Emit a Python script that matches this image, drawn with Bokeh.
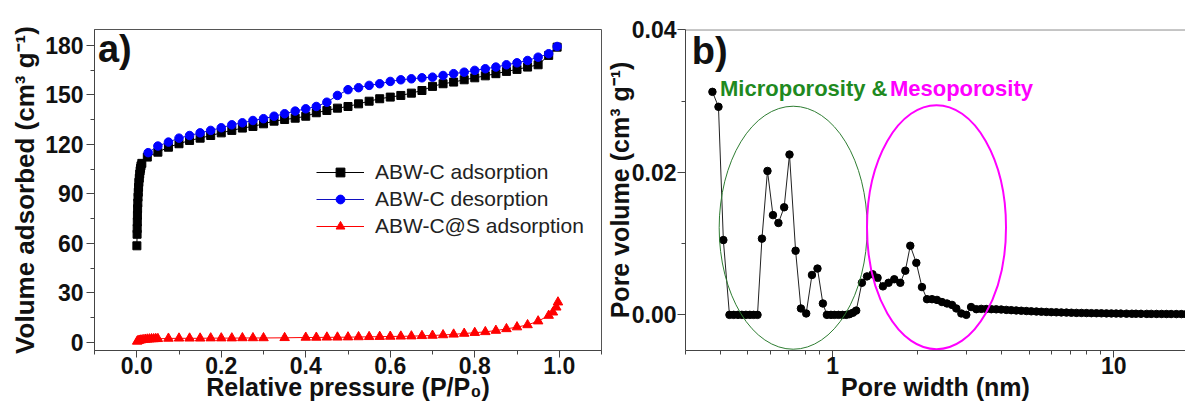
from bokeh.plotting import figure
from bokeh.layouts import row
from bokeh.models import (FixedTicker, PrintfTickFormatter, Legend, LegendItem,
                          Range1d, Span)
from bokeh.core.properties import value
from bokeh.embed import file_html
from bokeh.resources import INLINE

FONT = "Liberation Sans"

# ---------------- Panel a) : N2 isotherms ----------------
ads_p = [0.0003, 0.0008, 0.001, 0.0013, 0.0016, 0.002, 0.0025, 0.003, 0.0036, 0.0043,
         0.005, 0.006, 0.007, 0.008, 0.009, 0.010, 0.012,
         0.025, 0.05, 0.075, 0.1, 0.125, 0.15, 0.175, 0.2, 0.225, 0.25, 0.275, 0.3,
         0.325, 0.35, 0.375, 0.4, 0.425, 0.45, 0.475, 0.5, 0.525, 0.55, 0.575, 0.6,
         0.625, 0.65, 0.675, 0.7, 0.725, 0.75, 0.775, 0.8, 0.825, 0.85, 0.875, 0.9,
         0.925, 0.95, 0.975, 0.995]
ads_v = [58.5, 65.5, 69, 73, 77, 81, 84.5, 88, 91, 94,
         97, 99.5, 102, 104, 105.5, 107, 108.5,
         112.3, 115.3, 118.3, 120.4, 122.4, 123.8, 125.4, 127, 128.5, 129.9, 130.9, 132.5,
         134.1, 135.1, 135.9, 137.1, 139.2, 140.6, 142, 143, 144.6, 146.2, 147.7, 148.7,
         149.7, 151.1, 152.7, 155.2, 156.8, 157.8, 159.2, 160.4, 161.6, 162.9, 164.3, 165.5,
         166.9, 168.3, 174, 179]

des_p = [0.995, 0.975, 0.95, 0.925, 0.9, 0.875, 0.85, 0.825, 0.8, 0.775, 0.75, 0.725,
         0.7, 0.675, 0.65, 0.625, 0.6, 0.575, 0.55, 0.525, 0.5, 0.475, 0.45, 0.425,
         0.4, 0.375, 0.35, 0.325, 0.3, 0.275, 0.25, 0.225, 0.2, 0.175, 0.15, 0.125,
         0.1, 0.075, 0.05, 0.027]
des_v = [179.4, 175, 172.9, 170.9, 169.5, 168.3, 166.9, 165.9, 164.9, 163.8, 162.9, 161.8,
         160.8, 160.4, 159.8, 159.2, 158.2, 156.8, 155.8, 154.4, 153.2, 149.7, 145.6, 143,
         141.6, 140.2, 138.6, 137.1, 135.6, 134.5, 133.1, 131.9, 130.1, 128.5, 127, 125.4,
         123.8, 121.4, 119, 115]

cs_p = [0.001, 0.003, 0.006, 0.01, 0.015, 0.02, 0.025, 0.03, 0.035, 0.04, 0.045, 0.05,
        0.075, 0.1, 0.125, 0.15, 0.175, 0.2, 0.225, 0.25, 0.275, 0.3, 0.35, 0.4, 0.425,
        0.45, 0.475, 0.5, 0.525, 0.55, 0.575, 0.6, 0.625, 0.65, 0.675, 0.7, 0.725, 0.75,
        0.775, 0.8, 0.825, 0.85, 0.875, 0.9, 0.925, 0.95, 0.975, 0.985, 0.993, 0.997]
cs_v = [0.5, 0.9, 1.1, 1.3, 1.5, 1.7, 1.8, 1.9, 2.0, 2.0, 2.1, 2.1,
        2.3, 2.4, 2.4, 2.4, 2.5, 2.5, 2.5, 2.6, 2.6, 2.6, 2.7, 2.9, 2.9,
        3.0, 3.0, 3.1, 3.2, 3.3, 3.4, 3.5, 3.6, 3.7, 3.9, 4.1, 4.4, 4.8,
        5.3, 5.8, 6.3, 7.1, 8.1, 9.2, 10.5, 12.8, 16.2, 18.2, 21.2, 24.3]

a_xticks = [0.0, 0.2, 0.4, 0.6, 0.8, 1.0]
a_xminor = [-0.1, 0.1, 0.3, 0.5, 0.7, 0.9, 1.1]
a_yticks = [0, 30, 60, 90, 120, 150, 180]
a_yminor = [15, 45, 75, 105, 135, 165]

# ---------------- Panel b) : pore size distribution ----------------
pore_w = [0.374, 0.393, 0.409, 0.430, 0.445, 0.461, 0.476, 0.492, 0.508, 0.524, 0.541,
          0.561, 0.587, 0.614, 0.642, 0.673, 0.703, 0.739, 0.772, 0.806, 0.845, 0.884,
          0.924, 0.955, 0.987, 1.016, 1.050, 1.085, 1.119, 1.149, 1.182, 1.214, 1.272,
          1.326, 1.388, 1.446, 1.511, 1.582, 1.658, 1.742, 1.815, 1.890, 1.986, 2.080,
          2.168, 2.258, 2.352, 2.450, 2.553, 2.660, 2.755, 2.871, 2.990, 3.109, 3.246,
          3.380, 3.52, 3.67, 3.82, 3.98, 4.15, 4.32, 4.50, 4.69, 4.89, 5.09, 5.31, 5.53,
          5.76, 6.00, 6.25, 6.51, 6.79, 7.07, 7.37, 7.68, 8.00, 8.33, 8.68, 9.04, 9.42,
          9.81, 10.2, 10.6, 11.1, 11.6, 12.0, 12.5, 13.1, 13.6, 14.2, 14.8, 15.4, 16.0,
          16.7, 17.4, 18.1, 18.9]
pore_v = [0.0313, 0.0292, 0.0105, 0.0, 0.0, 0.0, 0.0, 0.0, 0.0, 0.0, 0.0,
          0.0107, 0.0202, 0.0140, 0.0129, 0.0151, 0.0225, 0.0090, 0.0009, 0.0002, 0.0056, 0.0065,
          0.0016, 0.0, 0.0, 0.0, 0.0, 0.0, 0.0, 0.0001, 0.0003, 0.0006, 0.0045,
          0.0054, 0.0057, 0.0052, 0.0040, 0.0045, 0.0050, 0.0045, 0.0062, 0.0097, 0.0073, 0.0039,
          0.0022, 0.0022, 0.0021, 0.0018, 0.0016, 0.0014, 0.0009, 0.0002, 0.0, 0.0011, 0.0008,
          0.00084, 0.00082, 0.0008, 0.00078, 0.00075, 0.0007, 0.00066, 0.00062, 0.00058, 0.00054,
          0.0005, 0.00047, 0.00044, 0.00041, 0.00038, 0.00036, 0.00034, 0.00032, 0.0003, 0.00028,
          0.00027, 0.00025, 0.00024, 0.00023, 0.00022, 0.00021, 0.0002, 0.00019, 0.00018,
          0.00017, 0.00016, 0.00016, 0.00015, 0.00014, 0.00014, 0.00013, 0.00013, 0.00012,
          0.00012, 0.00011, 0.00011, 0.0001, 0.0001]

b_xticks = [1, 10]
b_xminor = [0.3, 0.4, 0.5, 0.6, 0.7, 0.8, 0.9, 2, 3, 4, 5, 6, 7, 8, 9, 20]
b_yticks = [0.0, 0.02, 0.04]
b_yminor = [0.01, 0.03]

# annotation ellipses (centre in data units, size in screen px)
micro_c = (0.7245, 0.01223)
micro_size = (148, 243)
meso_c = (2.343, 0.0123)
meso_size = (139, 244)


def style_axes(p):
    for ax in (p.xaxis[0], p.yaxis[0]):
        ax.axis_line_color = "#444444"
        ax.major_tick_line_color = "#444444"
        ax.minor_tick_line_color = "#444444"
        ax.major_tick_in = 0
        ax.minor_tick_in = 0
        ax.major_label_text_font = FONT
        ax.major_label_text_font_style = "bold"
        ax.major_label_text_font_size = "23px"
        ax.major_label_text_color = "#111111"
        ax.axis_label_text_font = FONT
        ax.axis_label_text_font_style = "bold"
        ax.axis_label_text_font_size = "25px"
        ax.axis_label_text_color = "#111111"
    p.xaxis[0].major_tick_out = 7
    p.xaxis[0].minor_tick_out = 4
    p.xaxis[0].major_label_standoff = -1
    p.xaxis[0].axis_label_standoff = -4
    p.yaxis[0].major_tick_out = 8
    p.yaxis[0].minor_tick_out = 4
    p.yaxis[0].major_label_standoff = 3
    p.yaxis[0].axis_label_standoff = 2
    p.xgrid.visible = False
    p.ygrid.visible = False


# ---------------- figure a ----------------
p1 = figure(frame_width=507, frame_height=321, min_border_left=94, min_border_right=1,
            min_border_top=29, min_border_bottom=56,
            x_range=Range1d(-0.1, 1.1), y_range=Range1d(-5.0, 189.7),
            output_backend="svg", toolbar_location=None)
p1.outline_line_color = "#555555"
p1.xaxis.ticker = FixedTicker(ticks=a_xticks, minor_ticks=a_xminor)
p1.yaxis.ticker = FixedTicker(ticks=a_yticks, minor_ticks=a_yminor)
p1.xaxis.formatter = PrintfTickFormatter(format="%.1f")
p1.yaxis.formatter = PrintfTickFormatter(format="%d")
p1.xaxis.axis_label = "Relative pressure (P/P\u2080)"
p1.yaxis.axis_label = "Volume adsorbed (cm\u00b3 g\u207b\u00b9)"
style_axes(p1)
p1.yaxis[0].axis_label_text_font_size = "26px"

l1 = p1.line(ads_p, ads_v, line_color="black", line_width=1)
s1 = p1.scatter(ads_p, ads_v, marker="square", size=8, fill_color="black", line_color="black")
l2 = p1.line(des_p, des_v, line_color="#1010c0", line_width=1)
s2 = p1.scatter(des_p, des_v, marker="circle", size=8.5, fill_color="#0000ff", line_color="#0000ff")
l3 = p1.line(cs_p, cs_v, line_color="#ff0000", line_width=1)
s3 = p1.scatter(cs_p, cs_v, marker="triangle", size=9.5, fill_color="#ff0000", line_color="#ff0000")

legend = Legend(items=[LegendItem(label="ABW-C adsorption", renderers=[l1, s1]),
                       LegendItem(label="ABW-C desorption", renderers=[l2, s2]),
                       LegendItem(label="ABW-C@S adsorption", renderers=[l3, s3])],
                location=(222, 112), padding=0, margin=0, spacing=3,
                glyph_width=48, glyph_height=22, label_height=22, label_standoff=11,
                label_text_font=FONT, label_text_font_size="21px", label_text_color="#222222",
                background_fill_alpha=0, border_line_alpha=0)
p1.add_layout(legend)

p1.text(x=[-0.092], y=[177.6], text=["a)"], text_font=value(FONT), text_font_style="bold",
        text_font_size="38px", text_color="#111111", text_baseline="middle")

# ---------------- figure b ----------------
p2 = figure(frame_width=500, frame_height=321, min_border_left=83, min_border_right=0,
            min_border_top=29, min_border_bottom=56,
            x_axis_type="log", x_range=Range1d(0.3, 18.0), y_range=Range1d(-0.005, 0.04005),
            output_backend="svg", toolbar_location=None)
p2.outline_line_color = None
p2.xaxis.ticker = FixedTicker(ticks=b_xticks, minor_ticks=b_xminor)
p2.yaxis.ticker = FixedTicker(ticks=b_yticks, minor_ticks=b_yminor)
p2.xaxis.formatter = PrintfTickFormatter(format="%d")
p2.yaxis.formatter = PrintfTickFormatter(format="%.2f")
p2.xaxis.axis_label = "Pore width (nm)"
p2.yaxis.axis_label = "Pore volume (cm\u00b3 g\u207b\u00b9)"
style_axes(p2)
p2.yaxis[0].major_label_standoff = 1
p2.yaxis[0].axis_label_standoff = -5
p2.add_layout(Span(location=0.04, dimension="width", line_color="#555555", line_width=1))

p2.line(pore_w, pore_v, line_color="#222222", line_width=1)
p2.scatter(pore_w, pore_v, marker="circle", size=7.5, fill_color="black", line_color="black")

p2.ellipse(x=[micro_c[0]], y=[micro_c[1]], width=micro_size[0], height=micro_size[1],
           width_units="screen", height_units="screen",
           fill_color=None, line_color="#2e7d32", line_width=1)
p2.ellipse(x=[meso_c[0]], y=[meso_c[1]], width=meso_size[0], height=meso_size[1],
           width_units="screen", height_units="screen",
           fill_color=None, line_color="#ff00ff", line_width=2)

p2.text(x=[0.398], y=[0.0318], text=["Microporosity &"], text_font=value(FONT),
        text_font_style="bold", text_font_size="22px", text_color="#1f8a1f",
        text_baseline="middle")
p2.text(x=[1.60], y=[0.0318], text=["Mesoporosity"], text_font=value(FONT),
        text_font_style="bold", text_font_size="22px", text_color="#ff00ff",
        text_baseline="middle")
p2.text(x=[0.3156], y=[0.0371], text=["b)"], text_font=value(FONT), text_font_style="bold",
        text_font_size="38px", text_color="#111111", text_baseline="middle")

layout = row(p1, p2)
open("out.html", "w").write(file_html(layout, INLINE))
